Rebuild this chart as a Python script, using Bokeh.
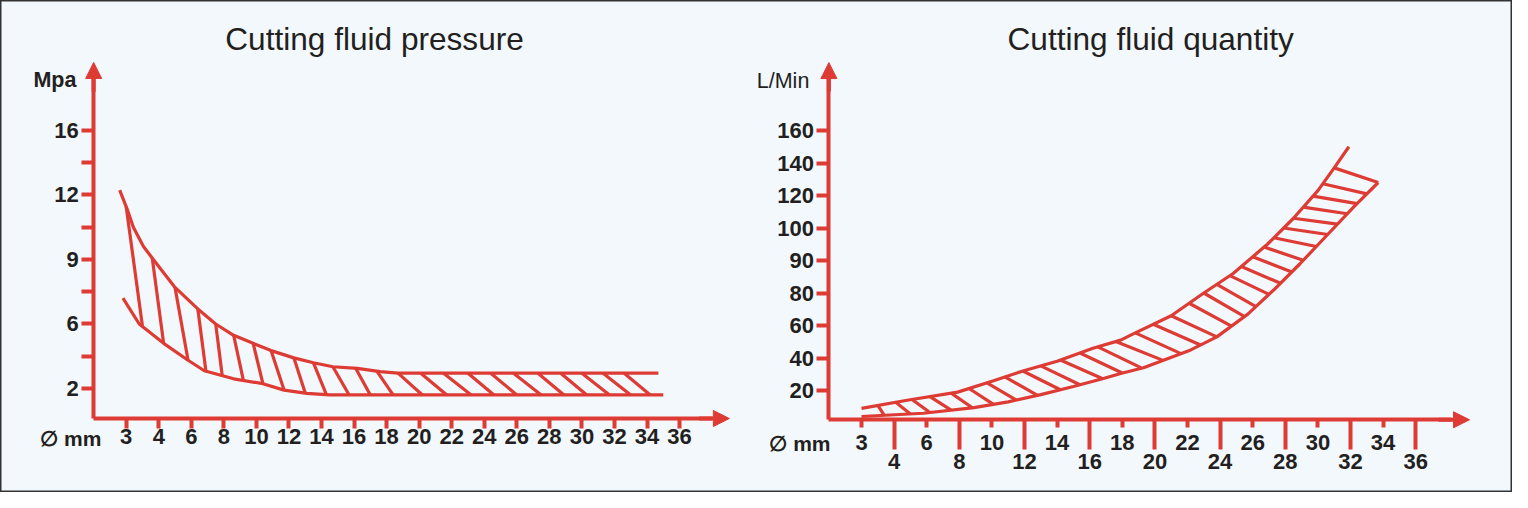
import numpy as np
from bokeh.core.properties import value
from bokeh.embed import file_html
from bokeh.models import Arrow, FixedTicker, LinearAxis, NormalHead, Range1d
from bokeh.plotting import figure
from bokeh.resources import INLINE

RED = "#dd3b33"
INK = "#231f20"
BG = "#f2f8fc"
FONT = "Liberation Sans"

titles = ["Cutting fluid pressure", "Cutting fluid quantity"]

# drill diameter (mm) - both charts use the same evenly spaced ticks
diam_ticks = [3, 4, 6, 8, 10, 12, 14, 16, 18, 20, 22, 24, 26, 28, 30, 32, 34, 36]

# left chart: pressure (MPa)
pres_ticks = [2, 4, 6, 7.5, 9, 10.5, 12, 14, 16]
pres_labels = ["2", "", "6", "", "9", "", "12", "", "16"]
pres_hi_mm = [2.8, 3.04, 3.22, 3.53, 3.81, 5.0, 6.4, 7.5, 8.6, 9.8, 10.9, 12.3, 13.5, 14.7, 16.2, 17.6, 18.7, 34.7]
pres_hi = [12.3, 11.3, 10.5, 9.6, 9.05, 7.7, 6.7, 6.0, 5.3, 4.8, 4.35, 3.9, 3.6, 3.35, 3.25, 3.05, 2.95, 2.95]
pres_lo_mm = [2.9, 3.4, 4.3, 5.8, 6.8, 8.6, 10.4, 11.7, 13.1, 14.5, 35.0]
pres_lo = [7.2, 6.0, 4.8, 3.75, 3.1, 2.6, 2.3, 1.9, 1.7, 1.6, 1.6]
pres_hatch_top_mm = [3.0, 3.8, 5.0, 6.4, 7.5, 8.6, 9.8, 10.9, 12.3, 13.5, 14.7, 16.1,
                     17.4, 18.7, 20.1, 21.5, 23.0, 24.4, 25.8, 27.3, 28.7, 30.0, 31.3, 32.6]
pres_hatch_bot_mm = [3.5, 4.3, 5.8, 6.9, 7.9, 9.2, 10.4, 11.7, 13.0, 14.3, 15.7, 17.0,
                     18.4, 20.2, 21.7, 23.2, 24.6, 26.0, 27.5, 28.9, 30.3, 31.7, 33.0, 34.2]

# right chart: quantity (L/min)
qty_ticks = [20, 40, 60, 80, 90, 100, 120, 140, 160]
qty_hi_mm = [3.0, 4.8, 7.9, 10.1, 11.9, 14.0, 16.2, 17.9, 18.7, 21.0, 23.0, 24.8, 26.9, 28.5, 30.0, 31.0, 31.9]
qty_hi = [9, 14, 19, 26, 32, 38, 46, 51, 55, 66, 80, 86, 95, 106, 123, 137, 150]
qty_lo_mm = [3.0, 5.8, 8.9, 11.0, 13.0, 15.0, 16.9, 17.9, 19.3, 22.2, 23.8, 25.7, 27.3, 28.9, 30.6, 32.2, 33.7]
qty_lo = [4, 6, 9.5, 13, 17.5, 22.5, 27.5, 30.5, 34, 45, 53, 67, 81, 89, 98, 113, 128]
qty_hatch_top_mm = [3.5, 4.1, 5.1, 6.2, 7.5, 8.6, 9.7, 10.8, 11.9, 13.0, 14.2, 15.4, 16.5, 17.6, 18.8, 19.9,
                    21.0, 22.1, 23.0, 23.8, 24.6, 25.3, 26.0, 26.7, 27.3, 27.9, 28.5, 29.1, 29.7, 30.3, 31.0]
qty_hatch_bot_mm = [3.7, 5.0, 6.2, 7.5, 8.8, 10.1, 11.5, 12.8, 14.2, 15.4, 16.8, 18.0, 19.2, 20.5, 21.6, 22.8,
                    23.8, 24.7, 25.5, 26.2, 27.0, 27.7, 28.4, 29.1, 29.9, 30.6, 31.2, 31.8, 32.4, 33.0, 33.7]


# the printed axes are ordinal: every tick is one step apart
def x_pos(mm):
    return np.interp(mm, [2] + diam_ticks, np.arange(-1, len(diam_ticks)))


def pres_pos(v):
    return np.interp(v, [0] + pres_ticks, np.arange(len(pres_ticks) + 1))


def qty_pos(v):
    return np.interp(v, [0] + qty_ticks, np.arange(len(qty_ticks) + 1))


def hatch(top_mm, bot_mm, hi_mm, hi, lo_mm, lo, ypos):
    x0, x1 = x_pos(top_mm), x_pos(bot_mm)
    y0 = np.interp(x0, x_pos(hi_mm), ypos(hi))
    y1 = np.interp(x1, x_pos(lo_mm), ypos(lo))
    return x0, y0, x1, y1


p = figure(width=1512, height=492, output_backend="svg", toolbar_location=None,
           x_axis_type=None, y_axis_type=None, min_border=0,
           x_range=Range1d(-3.862, 42.590), y_range=Range1d(-2.225, 13.031))
p.extra_x_ranges = {"q": Range1d(-26.411, 19.969)}
p.extra_y_ranges = {"q": Range1d(-2.138, 13.0)}
p.background_fill_color = BG
p.border_fill_color = BG
p.outline_line_color = "#333333"
p.outline_line_width = 2


def style(ax, tick_out):
    ax.axis_line_color = RED
    ax.axis_line_width = 4
    ax.major_tick_line_color = RED
    ax.major_tick_line_width = 4
    ax.major_tick_in = 0
    ax.major_tick_out = tick_out
    ax.minor_tick_line_color = None
    ax.major_label_text_font = FONT
    ax.major_label_text_font_size = "22px"
    ax.major_label_text_font_style = "bold"
    ax.major_label_text_color = INK
    return ax


n = len(diam_ticks)

# ---- left chart axes
ax = style(LinearAxis(fixed_location=0.07, bounds=(-1, 18.0),
                      ticker=FixedTicker(ticks=list(range(n))),
                      major_label_overrides={i: str(d) for i, d in enumerate(diam_ticks)}), 10)
ax.major_label_standoff = 1
p.add_layout(ax, "below")

ay = style(LinearAxis(fixed_location=-1, bounds=(0.07, 10.6),
                      ticker=FixedTicker(ticks=list(range(1, len(pres_ticks) + 1))),
                      major_label_overrides={i + 1: s for i, s in enumerate(pres_labels)}), 12)
ay.major_label_standoff = 3
p.add_layout(ay, "left")

# ---- right chart axes: short ticks + upper labels, then long ticks + lower labels
qx = style(LinearAxis(fixed_location=0.1, bounds=(-1, 18.1), x_range_name="q", y_range_name="q",
                      ticker=FixedTicker(ticks=list(range(0, n, 2))),
                      major_label_overrides={i: str(diam_ticks[i]) for i in range(0, n, 2)}), 8)
qx.major_label_standoff = 7
p.add_layout(qx, "below")

qx2 = style(LinearAxis(fixed_location=0.1, x_range_name="q", y_range_name="q",
                       ticker=FixedTicker(ticks=list(range(1, n, 2))),
                       major_label_overrides={i: str(diam_ticks[i]) for i in range(1, n, 2)}), 30)
qx2.axis_line_color = None
qx2.major_label_standoff = 4
p.add_layout(qx2, "below")

qy = style(LinearAxis(fixed_location=-1, bounds=(0.1, 10.6), x_range_name="q", y_range_name="q",
                      ticker=FixedTicker(ticks=list(range(1, len(qty_ticks) + 1))),
                      major_label_overrides={i + 1: str(v) for i, v in enumerate(qty_ticks)}), 12)
qy.major_label_standoff = 3
p.add_layout(qy, "left")

# arrow heads on the axes
for xs, ys, xe, ye, rng in [(-1, 10.2, -1, 11.11, "default"), (17.6, 0.07, 18.53, 0.07, "default"),
                            (-1, 10.2, -1, 11.09, "q"), (17.7, 0.1, 18.65, 0.1, "q")]:
    p.add_layout(Arrow(x_start=xs, y_start=ys, x_end=xe, y_end=ye, x_range_name=rng, y_range_name=rng,
                       line_color=RED, line_width=4,
                       end=NormalHead(size=16, fill_color=RED, line_color=RED, line_width=1)))

# ---- curves and hatching
lw = 3.2
p.line(x_pos(pres_hi_mm), pres_pos(pres_hi), line_color=RED, line_width=lw)
p.line(x_pos(pres_lo_mm), pres_pos(pres_lo), line_color=RED, line_width=lw)
x0, y0, x1, y1 = hatch(pres_hatch_top_mm, pres_hatch_bot_mm, pres_hi_mm, pres_hi, pres_lo_mm, pres_lo, pres_pos)
p.segment(x0, y0, x1, y1, line_color=RED, line_width=lw)

p.line(x_pos(qty_hi_mm), qty_pos(qty_hi), line_color=RED, line_width=lw, x_range_name="q", y_range_name="q")
p.line(x_pos(qty_lo_mm), qty_pos(qty_lo), line_color=RED, line_width=lw, x_range_name="q", y_range_name="q")
x0, y0, x1, y1 = hatch(qty_hatch_top_mm, qty_hatch_bot_mm, qty_hi_mm, qty_hi, qty_lo_mm, qty_lo, qty_pos)
p.segment(x0, y0, x1, y1, line_color=RED, line_width=lw, x_range_name="q", y_range_name="q")

# ---- texts
p.text(x=[7.63], y=[11.85], text=[titles[0]], text_font=value(FONT), text_font_size="31.6px",
       text_color=INK, text_align="center", text_baseline="middle")
p.text(x=[8.87], y=[11.83], text=[titles[1]], text_font=value(FONT), text_font_size="31.6px",
       text_color=INK, text_align="center", text_baseline="middle", x_range_name="q", y_range_name="q")
p.text(x=[-1.53], y=[10.58], text=["Mpa"], text_font=value(FONT), text_font_size="21.5px",
       text_font_style="bold", text_color=INK, text_align="right", text_baseline="middle")
p.text(x=[-1.6], y=[10.51], text=["L/Min"], text_font=value(FONT), text_font_size="21.5px",
       text_color=INK, text_align="right", text_baseline="middle", x_range_name="q", y_range_name="q")
p.text(x=[-0.76], y=[-0.55], text=["\u2205 mm"], text_font=value(FONT), text_font_size="21px",
       text_font_style="bold", text_color=INK, text_align="right", text_baseline="middle")
p.text(x=[-0.95], y=[-0.63], text=["\u2205 mm"], text_font=value(FONT), text_font_size="21px",
       text_font_style="bold", text_color=INK, text_align="right", text_baseline="middle",
       x_range_name="q", y_range_name="q")

open("out.html", "w").write(file_html(p, INLINE))
